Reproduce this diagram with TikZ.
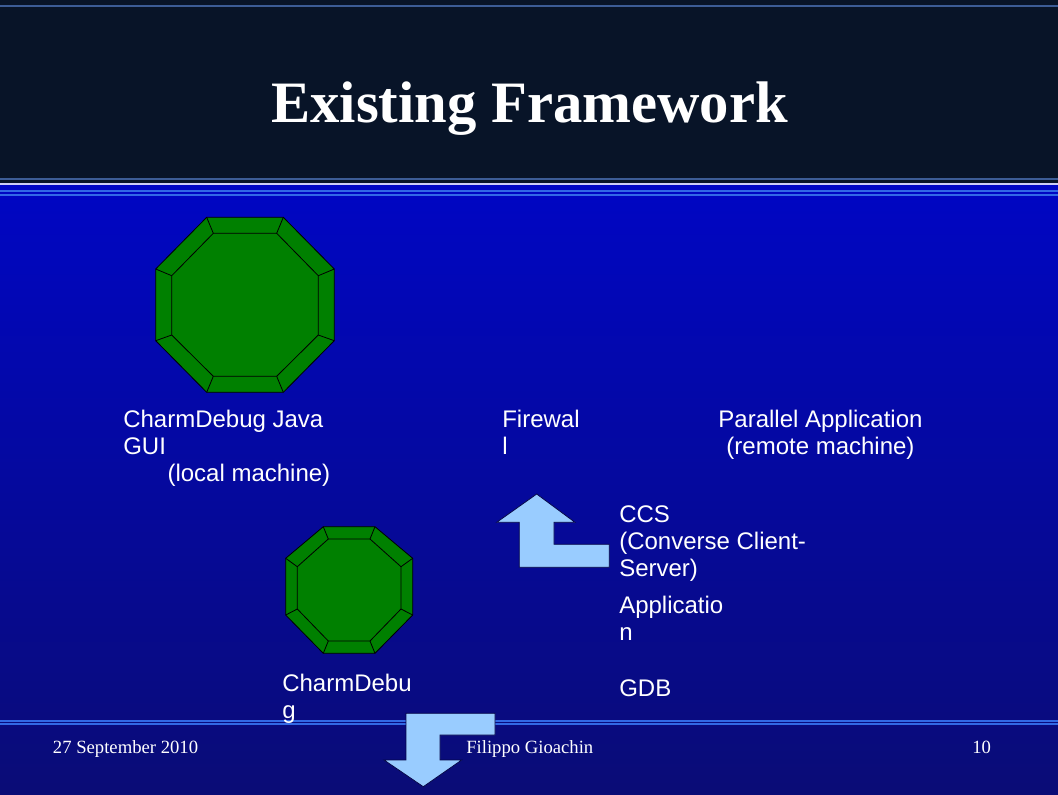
\documentclass[tikz,border=0pt]{standalone}
\usepackage{fontspec}
\setmainfont{Liberation Serif}
\setsansfont{Liberation Sans}
\usetikzlibrary{positioning}
\definecolor{headbg}{RGB}{8,20,40}
\definecolor{headline}{RGB}{60,92,150}
\definecolor{paleline}{RGB}{205,205,245}
\definecolor{rule}{RGB}{50,105,230}
\definecolor{slidetop}{RGB}{0,6,196}
\definecolor{slidebot}{RGB}{10,12,118}
\definecolor{octgreen}{RGB}{0,128,0}
\definecolor{arrowblue}{RGB}{153,204,255}

\begin{document}
\begin{tikzpicture}[x=0.75pt,y=-0.75pt]
		\tikzstyle{every node}=[text=white, inner sep=0pt]
		\tikzstyle{slidetext}=[font=\sffamily\fontsize{18}{20.25}\selectfont, anchor=base west, align=left]
		\tikzstyle{foot}=[font=\rmfamily\fontsize{14}{16}\selectfont, anchor=base west]
		\tikzstyle{octa}=[fill=octgreen, draw=black, line width=0.6pt, line join=round]
		\tikzstyle{blockarrow}=[fill=arrowblue, draw=slidebot!60!black, line width=0.6pt]
		\useasboundingbox (0,0) rectangle (1058,794);
		% background and header band
		\shade [top color=slidetop, bottom color=slidebot] (0,183) rectangle (1058,794);
		\fill [headbg] (0,0) rectangle (1058,183);
		\draw [headline, line width=2pt] (0,6) -- (1058,6);
		\draw [headline, line width=2pt] (0,179) -- (1058,179);
		\draw [paleline, line width=2pt] (0,184) -- (1058,184);
		\draw [rule, line width=1.5pt] (0,191) -- (1058,191);
		\draw [rule, line width=1.5pt] (0,195) -- (1058,195);
		\draw [rule, line width=1.5pt] (0,720.7) -- (1058,720.7);
		\draw [rule, line width=1.5pt] (0,724) -- (1058,724);
		\node [font=\rmfamily\bfseries\fontsize{44}{50}\selectfont, anchor=base] (title) at (529.5,122) {Existing Framework};
		% big octagon (GUI)
		\draw [octa] (206.7,217.3) -- (283.3,217.3) -- (334.3,269) -- (334.3,340.7) -- (283.3,392.3) -- (206.7,392.3) -- (155.7,340.7) -- (155.7,269) -- cycle;
		\draw [octa] (213.3,233.3) -- (276.7,233.3) -- (318.3,275.7) -- (318.3,335) -- (276.7,376.3) -- (213.3,376.3) -- (171.7,335) -- (171.7,275.7) -- cycle;
		\foreach \ox/\oy/\ix/\iy in {206.7/217.3/213.3/233.3, 283.3/217.3/276.7/233.3, 334.3/269/318.3/275.7, 334.3/340.7/318.3/335, 283.3/392.3/276.7/376.3, 206.7/392.3/213.3/376.3, 155.7/340.7/171.7/335, 155.7/269/171.7/275.7}
			\draw [line width=0.6pt] (\ox,\oy) -- (\ix,\iy);
		% small octagon (CharmDebug)
		\draw [octa] (323.3,526.7) -- (375,526.7) -- (412.7,558.3) -- (412.7,615) -- (375,653.3) -- (323.3,653.3) -- (285.7,615) -- (285.7,558.3) -- cycle;
		\draw [octa] (328.3,539) -- (370,539) -- (401,566.7) -- (401,609) -- (370,641) -- (328.3,641) -- (297.3,609) -- (297.3,566.7) -- cycle;
		\foreach \ox/\oy/\ix/\iy in {323.3/526.7/328.3/539, 375/526.7/370/539, 412.7/558.3/401/566.7, 412.7/615/401/609, 375/653.3/370/641, 323.3/653.3/328.3/641, 285.7/615/297.3/609, 285.7/558.3/297.3/566.7}
			\draw [line width=0.6pt] (\ox,\oy) -- (\ix,\iy);
		% block arrows
		\draw [blockarrow] (519.3,522.3) -- (496.7,522.3) -- (536.7,494) -- (575,522.3) -- (554,522.3) -- (554,544.3) -- (609.3,544.3) -- (609.3,567.3) -- (519.3,567.3) -- cycle;
		\draw [blockarrow] (406,713.3) -- (495,713.3) -- (495,735) -- (440,735) -- (440,760) -- (461.7,760) -- (423.3,786.7) -- (384,760) -- (406,760) -- cycle;
		% labels (base = baseline of last line)
		\node [slidetext] (guiname) at (123,454.5) {CharmDebug Java\\GUI};
		\node [slidetext] (guilocal) at (167.3,481.7) {(local machine)};
		\node [slidetext] (firewall) at (502,454.5) {Firewal\\l};
		\node [slidetext, align=center, anchor=base] (parapp) at (820.5,454.5) {Parallel Application\\(remote machine)};
		\node [slidetext] (ccs) at (619,576.7) {CCS\\(Converse Client-\\Server)};
		\node [slidetext] (appl) at (619,640.7) {Applicatio\\n};
		\node [slidetext] (gdb) at (619,696.7) {GDB};
		\node [slidetext] (cdebug) at (282,718) {CharmDebu\\g};
		% footer
		\node [foot] (date) at (52.7,753.3) {27 September 2010};
		\node [foot] (author) at (466,753.3) {Filippo Gioachin};
		\node [foot] (pageno) at (972,753.3) {10};
\end{tikzpicture}
\end{document}
